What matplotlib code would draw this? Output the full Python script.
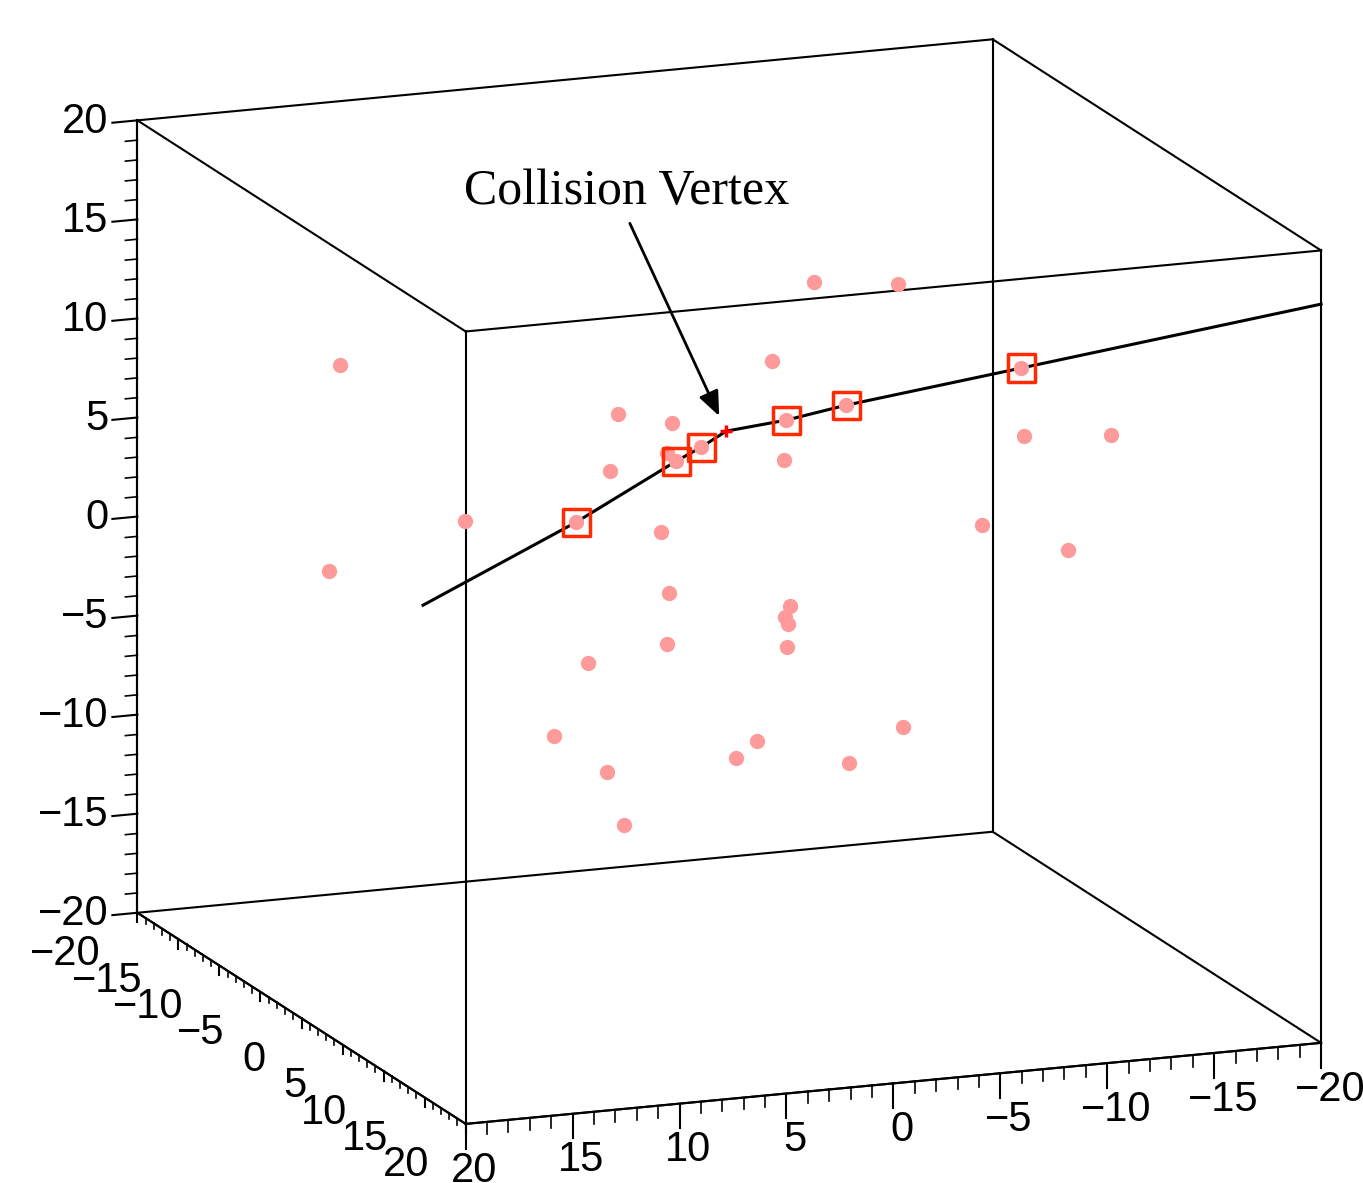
import matplotlib
matplotlib.use("Agg")
import matplotlib.pyplot as plt
import numpy as np
from mpl_toolkits.mplot3d import proj3d

plt.rcParams['font.family'] = ['Liberation Sans', 'DejaVu Sans']

# scattered detector hits (x, y, z)
dots_x = [18.20, 18.71, 12.35, 5.19, 5.57, 2.67, 2.90, -2.01, -3.98, -7.91, -2.57, 3.18,
          2.81, -2.85, -2.62, -2.76, 2.90, -2.71, 6.60, 8.19, 5.71, 4.91, -0.33, -1.31,
          -5.61, -8.14, -11.84, -15.86, -13.80, -17.87]
dots_y = [0.0] * len(dots_x)
dots_z = [12.79, 2.44, 4.31, 8.98, 6.15, 8.27, 6.78, 10.93, 14.71, 14.21, 5.87, 2.82,
          -0.30, -1.53, -2.07, -2.43, -2.87, -3.59, -3.45, -6.97, -9.04, -11.80, -8.95, -8.19,
          -9.75, -8.19, 1.64, -0.04, 5.93, 5.57]

# hits assigned to the reconstructed tracks
hits_x = [3.32, 1.175, 0.658, -1.90, -3.94, -9.86]
hits_y = [-10.0, -3.4, -1.7, 2.0, 4.0, 9.9]
hits_z = [0.675, 5.295, 6.40, 8.49, 9.57, 12.41]

# the two track segments
track1_x = [6.64, 3.32, 1.175, 0.658, 0.14]
track1_y = [-20.0, -10.0, -3.4, -1.7, 0.0]
track1_z = [-5.84, 0.675, 5.295, 6.40, 7.61]
track2_x = [0.14, -1.90, -3.94, -9.86, -20.0]
track2_y = [0.0, 2.0, 4.0, 9.9, 20.0]
track2_z = [7.61, 8.49, 9.57, 12.41, 17.29]

vertex = (0.14, 0.0, 7.61)

lim = (-20, 20)
ticks = [-20, -15, -10, -5, 0, 5, 10, 15, 20]

fig = plt.figure(figsize=(13.63, 11.83), dpi=100)
ax = fig.add_axes([-0.0279, -0.0565, 1.1, 1.1], projection='3d', proj_type='ortho',
                  computed_zorder=False)
ax.view_init(elev=14.29, azim=69.0)
ax.set_box_aspect((1, 1, 0.8925), zoom=1.143)
ax.set_xlim(*lim)
ax.set_ylim(*lim)
ax.set_zlim(*lim)

# x and y ticks hang straight down (along z), z ticks point left (along x)
ax.xaxis._get_tickdir = lambda position: 2
ax.yaxis._get_tickdir = lambda position: 2
tick_len = {ax.xaxis: 0.39, ax.yaxis: 0.15, ax.zaxis: 0.365}
for axis in (ax.xaxis, ax.yaxis, ax.zaxis):
    axis.set_pane_color((1, 1, 1, 0))
    axis.pane.set_edgecolor((1, 1, 1, 0))
    axis.line.set_color('black')
    axis.line.set_linewidth(1.5)
    axis.set_ticks(ticks)
    axis._axinfo['tick']['linewidth'] = {True: 1.5, False: 1.2}
    axis._axinfo['tick']['inward_factor'] = 0.0
    axis._axinfo['tick']['outward_factor'] = tick_len[axis]
ax.zaxis._axinfo['tick']['inward_factor'] = tick_len[ax.zaxis]
ax.zaxis._axinfo['tick']['outward_factor'] = 0.0
ax.grid(False)
ax.tick_params(labelsize=30, colors='black')
ax.tick_params(axis='x', pad=5)
ax.tick_params(axis='y', pad=12.7)
ax.tick_params(axis='z', pad=4)
for lab in ax.xaxis.get_majorticklabels():
    lab.set_ha('center')
    lab.set_va('top')
for lab in ax.yaxis.get_majorticklabels() + ax.zaxis.get_majorticklabels():
    lab.set_ha('right')
    lab.set_va('center_baseline')

# minor ticks every unit
minor = np.array([v for v in range(-20, 21) if v % 5 != 0], dtype=float)
nan = np.full_like(minor, np.nan)
ones = np.ones_like(minor)
# z axis: on edge x=20, y=-20, pointing +x
ax.plot(np.c_[20 * ones, 20.56 * ones, nan].ravel(), np.c_[-20 * ones, -20 * ones, nan].ravel(),
        np.c_[minor, minor, nan].ravel(), color='black', lw=1.2, zorder=1)
# x axis: on edge y=20, z=-20, pointing -z
ax.plot(np.c_[minor, minor, nan].ravel(), np.c_[20 * ones, 20 * ones, nan].ravel(),
        np.c_[-20 * ones, -20.6 * ones, nan].ravel(), color='black', lw=1.2, zorder=1)
# y axis: on edge x=20, z=-20, pointing -z
ax.plot(np.c_[20 * ones, 20 * ones, nan].ravel(), np.c_[minor, minor, nan].ravel(),
        np.c_[-20 * ones, -20.3 * ones, nan].ravel(), color='black', lw=1.2, zorder=1)

# box edges
for a in lim:
    for b in lim:
        ax.plot(lim, [a, a], [b, b], color='black', lw=1.5, zorder=1)
        ax.plot([a, a], lim, [b, b], color='black', lw=1.5, zorder=1)
        ax.plot([a, a], [b, b], lim, color='black', lw=1.5, zorder=1)

ax.plot(track1_x, track1_y, track1_z, color='black', lw=2.2, zorder=3)
ax.plot(track2_x, track2_y, track2_z, color='black', lw=2.2, zorder=3)

ax.scatter(dots_x, dots_y, dots_z, s=100, color='#ff9a9a', depthshade=False, zorder=4)
ax.scatter(hits_x, hits_y, hits_z, s=100, color='#ff9a9a', depthshade=False, zorder=4)
ax.scatter(hits_x, hits_y, hits_z, s=380, marker='s', facecolor='none',
           edgecolor='#ff2a00', linewidths=2.5, depthshade=False, zorder=5)
ax.plot([vertex[0]], [vertex[1]], [vertex[2]], marker='+', color='red', ms=9, mew=2.5, zorder=6)

vx, vy, _ = proj3d.proj_transform(*vertex, ax.get_proj())
ax.annotate('Collision Vertex', xy=(vx, vy), xytext=(-72, 172), textcoords='offset points',
            ha='center', va='center', fontsize=36, family='Liberation Serif',
            arrowprops=dict(arrowstyle='-|>,head_length=0.6,head_width=0.25',
                            color='black', lw=2, relpos=(0.5, 0), shrinkA=4, shrinkB=12,
                            mutation_scale=25))

fig.savefig('out.png', dpi=100)
